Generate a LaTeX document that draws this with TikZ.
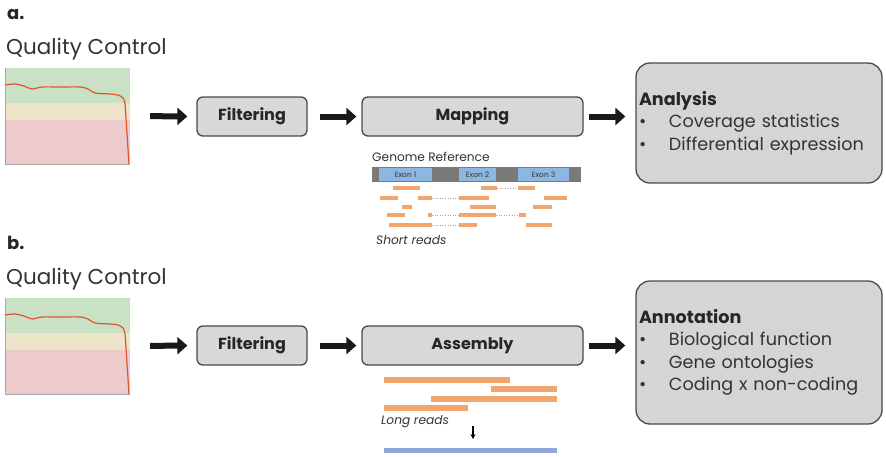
\documentclass[tikz,border=0pt]{standalone}
\usepackage{fontspec}
\setmainfont{Poppins}
\usetikzlibrary{arrows.meta}
\definecolor{boxfill}{HTML}{D8D7DA}
\definecolor{bigfill}{HTML}{D5D5D5}
\definecolor{boxline}{HTML}{4A4A4A}
\definecolor{txt}{HTML}{333333}
\definecolor{qcgreen}{HTML}{C9E2C6}
\definecolor{qcyellow}{HTML}{EDE3C8}
\definecolor{qcred}{HTML}{EDCACB}
\definecolor{qccurve}{HTML}{E0552E}
\definecolor{readc}{HTML}{F2A66E}
\definecolor{exonc}{HTML}{8DB6E0}
\definecolor{refgray}{HTML}{7A7A7A}
\definecolor{contig}{HTML}{8EA6D8}
\newcommand{\fsz}[2]{\fontsize{#1}{#2}\selectfont}
\newcommand{\qcplot}[2]{%
  \begin{scope}[shift={(0,#2)}]
    \fill[qcgreen] (5,68) rectangle (130,103);
    \fill[qcyellow] (5,103) rectangle (130,120);
    \fill[qcred] (5,120) rectangle (130,164);
    \draw[gray!70, line width=1pt] (5,68) -- (5,164) -- (130,164);
    \draw[qccurve, line width=1.2pt] plot[smooth, tension=0.5] coordinates {(5,85) (15,84) (24,86) (32,89) (42,87) (60,87) (80,87) (88,89) (95,93) (110,94) (118,95) (123,98) (125,103)} -- (129,164);
    \node[minimum width=125pt, minimum height=96pt, inner sep=0pt] (#1) at (67.5,116) {};
  \end{scope}}
\newcommand{\sread}[3]{\fill[readc] (#1,#3-2) rectangle (#2,#3+2);}
\newcommand{\lread}[3]{\fill[readc] (#1,#3-3) rectangle (#2,#3+3);}
\newcommand{\dotl}[3]{\draw[gray!70, line width=0.6pt, dotted] (#1,#3) -- (#2,#3);}
\tikzset{
  smallbox/.style={draw=boxline, fill=boxfill, line width=1.3pt, rounded corners=6pt, minimum height=39pt, inner sep=0pt, font=\fsz{16}{18}\bfseries, text=black!85},
  bigbox/.style={draw=boxline, fill=bigfill, line width=1.3pt, rounded corners=14pt, minimum width=246pt, inner xsep=3pt, align=left, text width=240pt, font=\fsz{17.6}{22.5}, text=txt},
  flow/.style={line width=6pt, black!90, -{Triangle[length=10pt,width=17pt]}},
  title/.style={anchor=west, inner sep=0pt, font=\fsz{21.5}{24}, text=txt},
  panel/.style={anchor=west, inner sep=0pt, font=\fsz{18}{20}\bfseries, text=black!85},
  small/.style={anchor=west, inner sep=0pt, font=\fsz{12.2}{14}, text=txt},
}
\newcommand{\bul}{\makebox[30pt][l]{\textbullet}}
\begin{document}
\begin{tikzpicture}[x=1pt,y=-1pt]
\useasboundingbox[fill=white] (0,0) rectangle (886,456);

% ---------------- panel a ----------------
\node[panel] (la) at (7,14) {a.};
\node[title] (qta) at (6,49) {Quality Control};
\qcplot{qca}{0}
\node[smallbox, minimum width=110pt] (fa) at (252,116.5) {Filtering};
\node[smallbox, minimum width=221pt] (ma) at (472.5,116.5) {Mapping};
\node[bigbox, minimum height=120pt] (an) at (759,123) {{\bfseries\color{black!85}Analysis}\\\bul Coverage statistics\\\bul Differential expression};
\draw[flow, shorten <=20pt, shorten >=9pt] (qca.east) -- (fa.west);
\draw[flow, shorten <=12pt, shorten >=5pt] (fa.east) -- (ma.west);
\draw[flow, shorten <=5pt, shorten >=10pt] (ma.east) -- (ma.east -| an.west);

% genome reference
\node[small] (gr) at (372,157) {Genome Reference};
\fill[refgray] (372,167) rectangle (581,182);
\fill[exonc] (379,168) rectangle (432,181);
\fill[exonc] (459,168) rectangle (496,181);
\fill[exonc] (518,168) rectangle (569,181);
\node[font=\fsz{7.5}{9}, text=txt, inner sep=0pt] (e1) at (405.5,174.5) {Exon 1};
\node[font=\fsz{7.5}{9}, text=txt, inner sep=0pt] (e2) at (477.5,174.5) {Exon 2};
\node[font=\fsz{7.5}{9}, text=txt, inner sep=0pt] (e3) at (543.5,174.5) {Exon 3};
% short reads
\sread{393}{420}{188} \sread{481}{497}{188} \dotl{497}{518}{188} \sread{518}{535}{188}
\sread{380}{398}{198} \sread{418}{432}{198} \dotl{432}{459}{198} \sread{459}{489}{198} \sread{544}{567}{198}
\sread{402}{412}{207} \sread{470}{496}{207} \sread{533}{552}{207}
\sread{387}{405}{215} \sread{428}{432}{215} \dotl{432}{459}{215} \sread{459}{496}{215} \dotl{496}{519}{215} \sread{519}{526}{215}
\sread{389}{432}{225} \dotl{432}{459}{225} \sread{459}{477}{225} \sread{526}{552}{225}
\node[small, font=\fsz{12.2}{14}\itshape] (sr) at (376,240) {Short reads};

% ---------------- panel b ----------------
\node[panel] (lb) at (7,243) {b.};
\node[title] (qtb) at (6,279) {Quality Control};
\qcplot{qcb}{230}
\node[smallbox, minimum width=110pt] (fb) at (252,345.5) {Filtering};
\node[smallbox, minimum width=221pt] (asm) at (472.5,345.5) {Assembly};
\node[bigbox, minimum height=143pt] (ann) at (759,352.5) {{\bfseries\color{black!85}Annotation}\\\bul Biological function\\\bul Gene ontologies\\\bul Coding x non-coding};
\draw[flow, shorten <=20pt, shorten >=9pt] (qcb.east) -- (fb.west);
\draw[flow, shorten <=12pt, shorten >=5pt] (fb.east) -- (asm.west);
\draw[flow, shorten <=5pt, shorten >=10pt] (asm.east) -- (asm.east -| ann.west);

% long reads
\lread{384}{510}{380}
\lread{491}{557}{389}
\lread{431}{557}{399}
\lread{384}{468}{408}
\node[small, font=\fsz{12.2}{14}\itshape] (lr) at (381,422) {Long reads};
\coordinate (ka) at (473,426);
\coordinate (kb) at (473,439);
\draw[line width=1.2pt, -{Stealth[length=5pt,width=5pt]}] (ka) -- (kb);
\fill[contig] (384,448) rectangle (557,453);
\end{tikzpicture}
\end{document}
